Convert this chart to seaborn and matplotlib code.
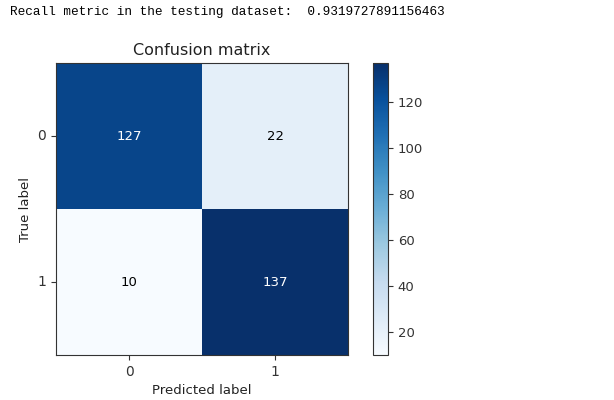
import numpy as np
import matplotlib
matplotlib.use("Agg")
import matplotlib.pyplot as plt
import seaborn as sns

classes = ["0", "1"]
cm = np.array([[127, 22],
               [10, 137]])
recall = 0.9319727891156463

fig = plt.figure(figsize=(6.14, 4.0), dpi=100)
ax = fig.add_axes([0.0912, 0.1125, 0.4756, 0.73])
cax = fig.add_axes([0.6075, 0.1125, 0.0245, 0.73])

sns.heatmap(cm, cmap="Blues", ax=ax, cbar_ax=cax, annot=False,
            xticklabels=classes, yticklabels=classes, square=False)

thresh = cm.max() / 2.0
for i in range(cm.shape[0]):
    for j in range(cm.shape[1]):
        ax.text(j + 0.5, i + 0.5, str(cm[i, j]), ha="center", va="center",
                fontsize=9.5, color="white" if cm[i, j] > thresh else "black")

for s in ax.spines.values():
    s.set_visible(True)
    s.set_color("#333333")
    s.set_linewidth(0.8)
ax.tick_params(axis="both", length=3.5, width=0.8, labelsize=10,
               colors="#333333")
ax.set_yticklabels(classes, rotation=0)
ax.set_xticklabels(classes, rotation=0)
ax.set_title("Confusion matrix", fontsize=11.5, color="#222222")
ax.set_xlabel("Predicted label", fontsize=9.5, color="#222222")
ax.set_ylabel("True label", fontsize=9.5, color="#222222")

cax.tick_params(labelsize=9.5, length=3.5, width=0.8, colors="#333333")
cbar = ax.collections[0].colorbar
cbar.set_ticks([20, 40, 60, 80, 100, 120])
cbar.outline.set_visible(True)
cbar.outline.set_edgecolor("#333333")
cbar.outline.set_linewidth(0.8)

fig.text(0.016, 0.97, "Recall metric in the testing dataset:  " + str(recall),
         family=["Liberation Mono", "DejaVu Sans Mono"], fontsize=9.2,
         ha="left", va="center")

fig.savefig("out.png", dpi=100)
